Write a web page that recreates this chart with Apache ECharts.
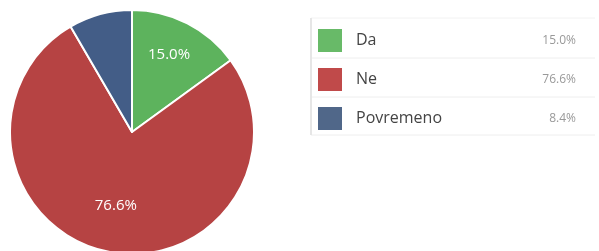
<!DOCTYPE html>
<html>
<head>
<meta charset="utf-8">
<script src="https://cdn.jsdelivr.net/npm/echarts@6/dist/echarts.min.js"></script>
<style>
  html, body { margin: 0; padding: 0; background: #fff; }
  #chart { width: 599px; height: 251px; }
</style>
</head>
<body>
<div id="chart"></div>
<script>
const categories = ["Da", "Ne", "Povremeno"];
const values = [15.0, 76.6, 8.4];
const pieColors = ["#5db35d", "#b64343", "#435d87"];
const legendColors = ["#68ba68", "#c04a4a", "#506789"];

const chart = echarts.init(document.getElementById("chart"));

const labelOffsets = [[8, -20], [-3, 11], [0, 0]];

chart.setOption({
  animation: false,
  legend: {
    orient: "vertical",
    left: 316,
    top: 27,
    padding: 0,
    itemWidth: 26,
    itemHeight: 25,
    itemGap: 12,
    icon: "rect",
    selectedMode: false,
    data: categories.map((name, i) => ({
      name: name,
      itemStyle: { color: legendColors[i] },
    })),
    formatter: (name) => {
      const i = categories.indexOf(name);
      return "{n|" + name + "}{v|" + values[i].toFixed(1) + "%}";
    },
    textStyle: {
      lineHeight: 25,
      rich: {
        n: {
          fontFamily: "Open Sans",
          fontSize: 16,
          color: "#444",
          width: 180,
          lineHeight: 25,
          padding: [0, 0, 0, 8],
        },
        v: {
          fontFamily: "Open Sans",
          fontSize: 12,
          color: "#999",
          width: 40,
          lineHeight: 25,
          align: "right",
        },
      },
    },
  },
  graphic: [
    { type: "line", shape: { x1: 311, y1: 18, x2: 595, y2: 18 }, style: { stroke: "#f2f2f2", lineWidth: 1 } },
    { type: "line", shape: { x1: 311, y1: 58, x2: 595, y2: 58 }, style: { stroke: "#eee", lineWidth: 1 } },
    { type: "line", shape: { x1: 311, y1: 97, x2: 595, y2: 97 }, style: { stroke: "#eee", lineWidth: 1 } },
    { type: "line", shape: { x1: 311, y1: 135, x2: 595, y2: 135 }, style: { stroke: "#eee", lineWidth: 1 } },
    { type: "line", shape: { x1: 311, y1: 18, x2: 311, y2: 135 }, style: { stroke: "#e6e6e6", lineWidth: 2 } },
  ],
  series: [
    {
      type: "pie",
      center: [132, 132],
      radius: 122,
      startAngle: 90,
      clockwise: true,
      emphasis: { disabled: true },
      itemStyle: { borderColor: "#fff", borderWidth: 2 },
      label: {
        position: "inside",
        color: "#fff",
        fontFamily: "Open Sans",
        fontSize: 15,
        formatter: (p) => p.value.toFixed(1) + "%",
      },
      data: categories.map((name, i) => ({
        name: name,
        value: values[i],
        itemStyle: { color: pieColors[i] },
        label: {
          show: i < 2,
          offset: labelOffsets[i],
        },
      })),
    },
  ],
});
</script>
</body>
</html>
